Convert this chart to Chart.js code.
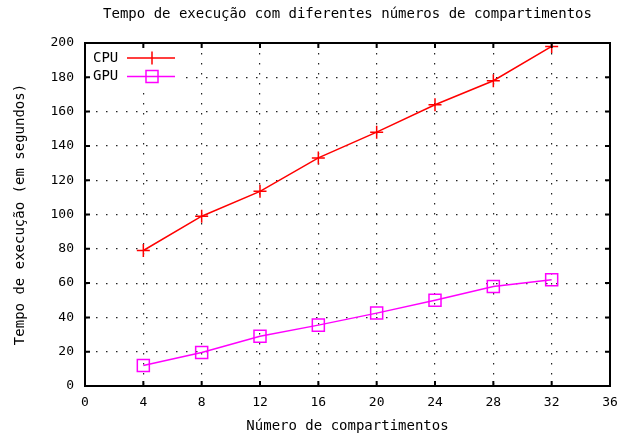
<!DOCTYPE html>
<html>
<head>
<meta charset="utf-8">
<script src="https://cdn.jsdelivr.net/npm/chart.js@4/dist/chart.umd.min.js"></script>
<style>
  html, body { margin: 0; padding: 0; background: #fff; }
</style>
</head>
<body>
<canvas id="chart" width="630" height="444"></canvas>
<script>
// data
const compartments = [4, 8, 12, 16, 20, 24, 28, 32];
const cpuTimes = [79, 99, 113.5, 133, 148, 164, 178, 198];
const gpuTimes = [12, 19.5, 29, 35.5, 42.5, 50, 58, 62];
const seriesLabels = ["CPU", "GPU"];

const font = "'DejaVu Sans Mono', 'Liberation Mono', monospace";

// border + inward ticks on all four sides, gnuplot style
const frame = {
  id: "frame",
  afterDraw(chart) {
    const { ctx, chartArea: a, scales } = chart;
    ctx.save();
    ctx.strokeStyle = "#000";
    ctx.lineWidth = 2;
    ctx.strokeRect(a.left, a.top, a.right - a.left, a.bottom - a.top);
    ctx.beginPath();
    scales.x.ticks.forEach((t) => {
      const px = scales.x.getPixelForValue(t.value);
      ctx.moveTo(px, a.bottom); ctx.lineTo(px, a.bottom - 5);
      ctx.moveTo(px, a.top); ctx.lineTo(px, a.top + 5);
    });
    scales.y.ticks.forEach((t) => {
      const py = scales.y.getPixelForValue(t.value);
      ctx.moveTo(a.left, py); ctx.lineTo(a.left + 5, py);
      ctx.moveTo(a.right, py); ctx.lineTo(a.right - 5, py);
    });
    ctx.stroke();
    ctx.restore();
  },
};

// key: text first, then a line sample with the marker
const key = {
  id: "key",
  beforeDatasetsDraw(chart) {
    const { ctx, chartArea: a } = chart;
    ctx.save();
    ctx.fillStyle = "#fff";
    ctx.fillRect(a.left + 2, a.top + 2, 94, 44);
    ctx.font = "14px " + font;
    ctx.textBaseline = "middle";
    chart.data.datasets.forEach((ds, i) => {
      const y = a.top + 15 + i * 18.5;
      ctx.fillStyle = "#000";
      ctx.fillText(ds.label, a.left + 8, y);
      ctx.strokeStyle = ds.borderColor;
      ctx.lineWidth = 1.5;
      ctx.beginPath();
      ctx.moveTo(a.left + 42, y); ctx.lineTo(a.left + 90, y);
      const mx = a.left + 67;
      if (ds.pointStyle === "cross") {
        ctx.moveTo(mx, y - ds.pointRadius); ctx.lineTo(mx, y + ds.pointRadius);
      } else {
        const s = ds.pointRadius * Math.SQRT1_2;
        ctx.rect(mx - s, y - s, 2 * s, 2 * s);
      }
      ctx.stroke();
    });
    ctx.restore();
  },
};

new Chart(document.getElementById("chart"), {
  type: "line",
  data: {
    datasets: [
      {
        label: seriesLabels[0],
        data: compartments.map((x, i) => ({ x, y: cpuTimes[i] })),
        borderColor: "#ff0000",
        backgroundColor: "transparent",
        borderWidth: 1.5,
        pointStyle: "cross",
        pointRadius: 6.5,
        pointBorderWidth: 1.5,
        tension: 0,
      },
      {
        label: seriesLabels[1],
        data: compartments.map((x, i) => ({ x, y: gpuTimes[i] })),
        borderColor: "#ff00ff",
        backgroundColor: "transparent",
        borderWidth: 1.5,
        pointStyle: "rect",
        pointRadius: 8.5,
        pointBorderWidth: 1.5,
        tension: 0,
      },
    ],
  },
  options: {
    responsive: false,
    animation: false,
    layout: { padding: { right: 20 } },
    plugins: {
      legend: { display: false },
      tooltip: { enabled: false },
      title: {
        display: true,
        fullSize: false,
        text: "Tempo de execução com diferentes números de compartimentos",
        color: "#000",
        font: { family: font, size: 14, weight: "normal" },
        padding: { top: 5.6, bottom: 20.6 },
      },
    },
    scales: {
      x: {
        type: "linear",
        min: 0,
        max: 36,
        afterFit: (scale) => { scale.height = 58; },
        ticks: { stepSize: 4, color: "#000", padding: 9, font: { family: font, size: 13 } },
        grid: { color: "#222", lineWidth: 1.2, drawTicks: false },
        border: { color: "#000", width: 2, dash: [1.5, 8.5] },
        title: {
          display: true,
          text: "Número de compartimentos",
          color: "#000",
          font: { family: font, size: 14 },
          padding: { top: 0, bottom: 9.6 },
        },
      },
      y: {
        min: 0,
        max: 200,
        afterFit: (scale) => { scale.width = 85; },
        ticks: { stepSize: 20, color: "#000", padding: 11, font: { family: font, size: 13 } },
        grid: { color: "#222", lineWidth: 1.2, drawTicks: false },
        border: { color: "#000", width: 2, dash: [1.5, 8.5] },
        title: {
          display: true,
          text: "Tempo de execução (em segundos)",
          color: "#000",
          font: { family: font, size: 14 },
          padding: { top: 11.6, bottom: 0 },
        },
      },
    },
  },
  plugins: [frame, key],
});
</script>
</body>
</html>
